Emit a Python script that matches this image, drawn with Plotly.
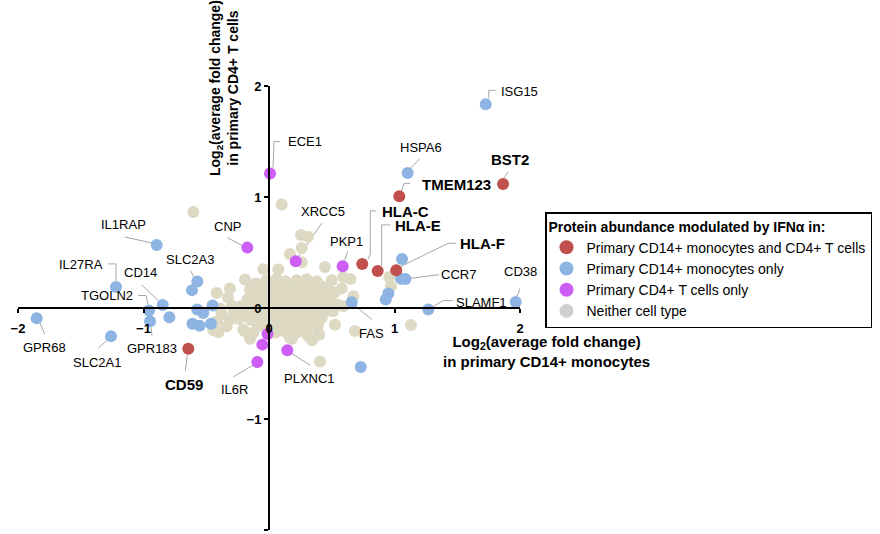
import plotly.graph_objects as go

# ---------------- data (log2 average fold change) ----------------
# x: CD14+ monocytes, y: CD4+ T cells
red_x = [1.038, 1.865, 0.743, 0.866, 1.014, -0.643]
red_y = [1.006, 1.118, 0.397, 0.334, 0.340, -0.368]
red_names = ["TMEM123", "BST2", "HLA-C", "HLA-E", "HLA-F", "CD59"]

blue_x = [1.727, 1.105, 1.060, 1.052, 1.087, 0.951, 0.930, 0.659, 1.269, 1.966, 0.731,
          -0.895, -1.219, -0.847, -0.956, -0.948, -0.794, -1.851, -1.259, -0.571, -0.614,
          -0.572, -0.450, -0.524, -0.610, -0.552, -0.462]
blue_y = [1.835, 1.217, 0.442, 0.264, 0.262, 0.130, 0.076, 0.051, -0.014, 0.055, -0.531,
          0.568, 0.190, 0.028, -0.023, -0.120, -0.084, -0.093, -0.255, 0.238, 0.161,
          -0.014, 0.022, -0.046, -0.141, -0.161, -0.141]
blue_names = ["ISG15", "HSPA6", "", "CCR7", "", "", "", "FAS", "SLAMF1", "CD38", "",
              "IL1RAP", "IL27RA", "CD14", "TGOLN2", "GPR183", "", "GPR68", "SLC2A1", "SLC2A3", "",
              "", "", "", "", "", ""]

purple_x = [0.008, -0.173, 0.213, 0.587, -0.012, -0.053, -0.093, 0.146]
purple_y = [1.211, 0.544, 0.421, 0.376, -0.235, -0.330, -0.486, -0.381]
purple_names = ["ECE1", "CNP", "XRCC5", "PKP1", "", "", "IL6R", "PLXNC1"]

beige_x = [
    # scattered
    0.101, -0.603, 0.255, 0.311, 0.261, 0.167, 0.261, 0.446, -0.045, 0.074, 0.592, 0.649,
    0.959, 0.972, 0.500, 0.579, 0.510, 0.672, 0.592, 0.526, 0.393, 0.313, 0.167, 0.247,
    0.685, 1.131, 0.406, 0.343, -0.311, -0.417, -0.191, -0.104, -0.151, -0.098, -0.377,
    -0.311, -0.231, -0.417, -0.337, -0.151, -0.205, -0.085, -0.151, -0.444, -0.404, -0.191,
    -0.125, 0.141, 0.221, 0.181, 0.401, -0.390, -0.295, -0.245, -0.327,
    # dense core
    -0.02, 0.06, 0.13, 0.22, 0.30, 0.38,
    -0.08, 0.02, 0.09, 0.17, 0.26, 0.33, 0.41, 0.47,
    -0.12, -0.03, 0.04, 0.11, 0.19, 0.24, 0.31, 0.37, 0.44, 0.52,
    -0.17, -0.07, 0.00, 0.07, 0.14, 0.21, 0.28, 0.35, 0.42, 0.49,
    -0.22, -0.12, -0.04, 0.03, 0.10, 0.17, 0.25, 0.32, 0.39, 0.46, 0.55,
    -0.28, -0.19, -0.10, -0.02, 0.06, 0.13, 0.20, 0.28, 0.36, 0.44, 0.51,
    -0.24, -0.13, -0.05, 0.03, 0.10, 0.18, 0.26, 0.34, 0.42,
    -0.09, 0.00, 0.08, 0.16, 0.24, 0.31, 0.39,
    0.05, 0.12, 0.21, 0.29,
]
beige_y = [
    0.932, 0.864, 0.657, 0.643, 0.541, 0.486, 0.412, 0.370, 0.350, 0.346, 0.280, 0.262,
    0.280, 0.195, 0.250, 0.175, 0.130, 0.105, 0.015, -0.150, -0.224, -0.255, -0.269, -0.179,
    -0.208, -0.154, -0.483, -0.291, 0.175, 0.136, 0.256, 0.220, 0.166, 0.105, -0.059,
    -0.104, -0.053, -0.120, -0.165, -0.104, -0.195, -0.165, -0.276, -0.201, -0.219, -0.210,
    -0.224, -0.195, -0.210, -0.276, -0.240, -0.005, 0.022, -0.044, 0.094,
    0.25, 0.26, 0.24, 0.25, 0.26, 0.24,
    0.20, 0.19, 0.21, 0.20, 0.19, 0.21, 0.20, 0.19,
    0.14, 0.15, 0.13, 0.14, 0.15, 0.13, 0.14, 0.15, 0.13, 0.14,
    0.08, 0.07, 0.09, 0.08, 0.07, 0.09, 0.08, 0.07, 0.09, 0.08,
    0.02, 0.03, 0.01, 0.02, 0.03, 0.01, 0.02, 0.03, 0.01, 0.02, 0.03,
    -0.04, -0.03, -0.05, -0.04, -0.03, -0.05, -0.04, -0.03, -0.05, -0.04, -0.03,
    -0.10, -0.11, -0.09, -0.10, -0.11, -0.09, -0.10, -0.11, -0.09,
    -0.16, -0.15, -0.17, -0.16, -0.15, -0.17, -0.16,
    -0.22, -0.21, -0.23, -0.22,
]

legend_names = ["Primary CD14+ monocytes and CD4+ T cells",
                "Primary CD14+ monocytes only",
                "Primary CD4+ T cells only",
                "Neither cell type"]
tick_vals = [-2, -1, 0, 1, 2]

# ---------------- styling ----------------
RED, BLUE, PURPLE, BEIGE, GREY = "#C0504D", "#8DB4E2", "#CC5EF5", "#DDD9C3", "#D0D0D0"
LEADER = "#A6A6A6"
FONT = "Liberation Sans, Arial, sans-serif"
MS = 12
W, H = 880, 534
XL, XR, YT, YB = 18, 520, 86, 530  # pixel extents of the [-2, 2] ranges

# label text centre offsets from the point (screen pixels, y down)
label_pos = {
    "TMEM123": (57, -12), "BST2": (7, -24), "HLA-C": (43, -52), "HLA-E": (40, -45),
    "HLA-F": (86, -27), "CD59": (-4, 36),
    "ISG15": (34, -13), "HSPA6": (13, -25), "CCR7": (57, -4), "FAS": (20, 31),
    "SLAMF1": (53, -7), "CD38": (5, -30), "IL1RAP": (-33, -20), "IL27RA": (-35, -22),
    "CD14": (-22, -32), "TGOLN2": (-42, -15), "GPR183": (2, 27), "GPR68": (8, 29),
    "SLC2A1": (-14, 26), "SLC2A3": (-7, -22),
    "ECE1": (35, -32), "CNP": (-20, -21), "XRCC5": (27, -50), "PKP1": (4, -25),
    "IL6R": (-23, 28), "PLXNC1": (22, 28),
}
# leader polylines relative to the point (screen pixels, y down)
leader = {
    "ISG15": [(3, -6), (3, -14), (10, -14)],
    "HSPA6": [(2, -4), (12, -14)],
    "BST2": [(1, -6), (5, -12)],
    "TMEM123": [(2, -5), (5, -13), (11, -13)],
    "HLA-C": [(6, -5), (8, -10), (8, -53), (14, -53)],
    "HLA-E": [(4, -5), (4, -46), (13, -46)],
    "HLA-F": [(3, -3), (52, -27), (60, -27)],
    "CCR7": [(6, 0), (38, -4)],
    "CD38": [(1, -5), (6, -17)],
    "SLAMF1": [(5, -3), (15, -9), (25, -9)],
    "FAS": [(4, 4), (20, 17)],
    "PKP1": [(2, -6), (5, -15)],
    "XRCC5": [(3, -5), (26, -38)],
    "CNP": [(-20, -10), (-5, -2)],
    "ECE1": [(3, -6), (4, -32), (10, -32)],
    "IL1RAP": [(-32, -8), (-5, -2)],
    "SLC2A3": [(-7, -11), (-3, -4)],
    "IL27RA": [(-8, -23), (0, -23), (0, -6)],
    "CD14": [(-21, -20), (-4, -4)],
    "TGOLN2": [(-11, -15), (-3, -15), (-1, -6)],
    "GPR183": [(1, 6), (2, 14)],
    "GPR68": [(3, 4), (8, 16)],
    "SLC2A1": [(-4, 4), (-13, 12)],
    "CD59": [(-1, 6), (-3, 22)],
    "IL6R": [(-4, 3), (-24, 15)],
    "PLXNC1": [(4, 3), (23, 15)],
}
bold_labels = set(red_names)

fig = go.Figure()

fig.add_trace(go.Scatter(x=beige_x, y=beige_y, mode="markers", showlegend=False,
                         marker=dict(color=BEIGE, size=MS), cliponaxis=False, hoverinfo="skip"))
for xs, ys, col in [(blue_x, blue_y, BLUE), (purple_x, purple_y, PURPLE), (red_x, red_y, RED)]:
    fig.add_trace(go.Scatter(x=xs, y=ys, mode="markers", showlegend=False,
                             marker=dict(color=col, size=MS), cliponaxis=False))

# legend entries
for name, col in zip(legend_names, [RED, BLUE, PURPLE, GREY]):
    fig.add_trace(go.Scatter(x=[None], y=[None], mode="markers", name=name,
                             marker=dict(color=col, size=14)))

annotations, shapes = [], []
for xs, ys, names in [(red_x, red_y, red_names), (blue_x, blue_y, blue_names),
                      (purple_x, purple_y, purple_names)]:
    for x, y, n in zip(xs, ys, names):
        if not n:
            continue
        ax, ay = label_pos[n]
        bold = n in bold_labels
        annotations.append(dict(
            x=x, y=y, xref="x", yref="y", text=n, showarrow=False,
            xshift=ax, yshift=-ay, xanchor="center", yanchor="middle",
            font=dict(family=FONT, size=15 if bold else 13, color="black",
                      weight="bold" if bold else "normal")))
        pts = leader[n]
        path = "M" + " L".join(f"{dx},{-dy}" for dx, dy in pts)
        shapes.append(dict(type="path", xref="x", yref="y", xsizemode="pixel",
                           ysizemode="pixel", xanchor=x, yanchor=y, path=path,
                           line=dict(color=LEADER, width=1), layer="below"))

# axis titles
annotations.append(dict(
    x=546 / W, y=1 - 352 / H, xref="paper", yref="paper", showarrow=False,
    xanchor="center", yanchor="middle",
    text="Log<sub>2</sub>(average fold change)<br>in primary CD14+ monocytes",
    font=dict(family=FONT, size=15, color="black", weight="bold"), align="center"))
annotations.append(dict(
    x=224 / W, y=1 - 88 / H, xref="paper", yref="paper", showarrow=False, textangle=-90,
    xanchor="center", yanchor="middle",
    text="Log<sub>2</sub>(average fold change)<br>in primary CD4+ T cells",
    font=dict(family=FONT, size=14, color="black", weight="bold"), align="center"))

axis_common = dict(range=[-2, 2], tickvals=tick_vals, showgrid=False, zeroline=False,
                   showline=True, linecolor="black", linewidth=2, ticks="outside",
                   ticklen=4, tickwidth=2, tickcolor="black", automargin=False,
                   tickfont=dict(family=FONT, size=13, color="black", weight="bold"))

x0_paper = (XL + (XR - XL) / 2) / W
y0_paper = 1 - (YT + (YB - YT) / 2) / H

fig.update_layout(
    width=W, height=H, margin=dict(l=0, r=0, t=0, b=0, autoexpand=False),
    paper_bgcolor="white", plot_bgcolor="white",
    xaxis=dict(domain=[XL / W, XR / W], anchor="free", position=y0_paper,
               ticklabelstandoff=4, **axis_common),
    yaxis=dict(domain=[1 - YB / H, 1 - YT / H], anchor="free", position=x0_paper, **axis_common),
    legend=dict(x=545 / W, y=1 - 212 / H, xanchor="left", yanchor="top",
                bordercolor="black", borderwidth=1.5, bgcolor="white",
                font=dict(family=FONT, size=14, color="black"),
                title=dict(text="Protein abundance modulated by IFNα in:",
                           font=dict(family=FONT, size=14, color="black", weight="bold")),
                itemsizing="trace"),
    annotations=annotations,
    shapes=shapes,
    showlegend=True,
)

fig.write_html("out.html", config={"displayModeBar": False},
               post_script="document.body.style.margin='0px';")
